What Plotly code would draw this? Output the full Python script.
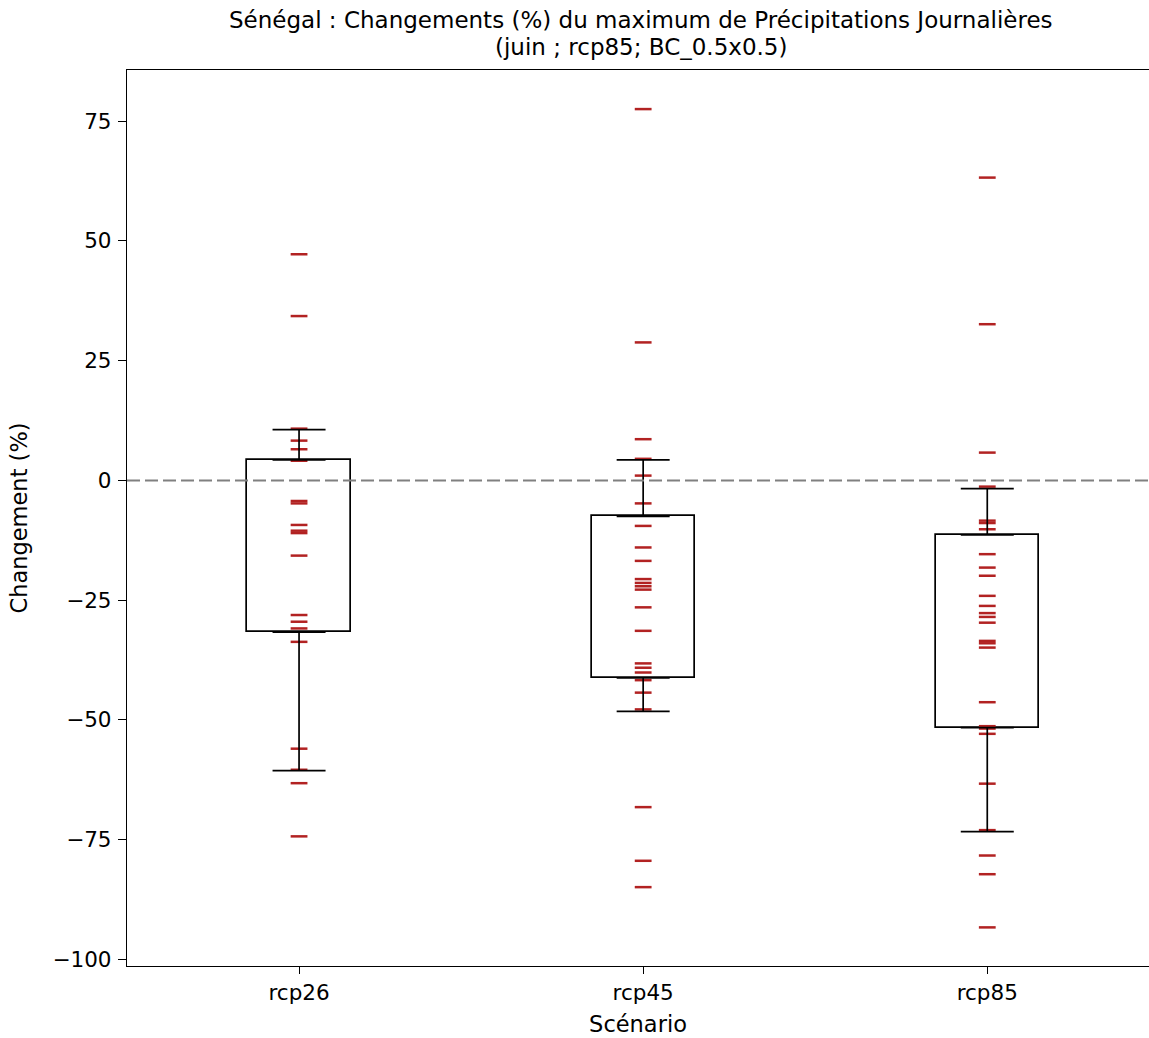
import plotly.graph_objects as go

# ---- data ----
scenarios = ["rcp26", "rcp45", "rcp85"]
positions = [1, 2, 3]

rcp26_vals = [47.2, 34.3, 10.8, 8.3, 6.5, 4.1, -4.3, -4.8, -9.3, -10.5, -11.0, -15.7,
              -28.1, -29.5, -30.9, -33.7, -56.0, -60.4, -63.2, -74.3]
rcp45_vals = [77.5, 28.8, 8.6, 4.5, 1.0, -4.8, -9.5, -14.0, -16.8, -20.6, -21.4, -22.1,
              -22.8, -26.5, -31.4, -38.2, -39.1, -40.1, -41.7, -44.3, -47.8, -68.2,
              -79.4, -84.9]
rcp85_vals = [63.2, 32.6, 5.8, -1.3, -8.4, -8.9, -10.2, -15.4, -18.2, -19.9, -24.1,
              -26.2, -27.7, -28.5, -29.7, -33.5, -34.0, -34.9, -46.3, -51.3, -51.8,
              -52.9, -63.3, -73.0, -78.3, -82.2, -93.3]

q1 = [-31.7, -41.2, -51.6]
q3 = [4.3, -7.5, -11.4]
whisker_low = [-60.6, -48.2, -73.3]
whisker_high = [10.6, 4.3, -1.7]

y_ticks = [-100, -75, -50, -25, 0, 25, 50, 75]

title_line1 = "Sénégal : Changements (%) du maximum de Précipitations Journalières"
title_line2 = "(juin ; rcp85; BC_0.5x0.5)"

FONT = "DejaVu Sans"
fig = go.Figure()

# individual model values
for pos, vals in zip(positions, [rcp26_vals, rcp45_vals, rcp85_vals]):
    fig.add_trace(go.Scatter(
        x=[pos] * len(vals), y=vals, mode="markers",
        marker=dict(symbol="line-ew", size=12, color="#b22222",
                    line=dict(color="#b22222", width=2.5)),
        showlegend=False, hoverinfo="y"))

# boxes
fig.add_trace(go.Bar(
    x=positions, base=q1, y=[b - a for a, b in zip(q1, q3)], width=0.3,
    marker=dict(color="rgba(0,0,0,0)", line=dict(color="black", width=1.7)),
    showlegend=False, hoverinfo="skip"))

# upper whiskers
fig.add_trace(go.Scatter(
    x=positions, y=q3, mode="markers",
    marker=dict(color="rgba(0,0,0,0)", size=1),
    error_y=dict(type="data", symmetric=False,
                 array=[h - t for h, t in zip(whisker_high, q3)],
                 arrayminus=[0, 0, 0], width=26.5, thickness=1.7, color="black"),
    showlegend=False, hoverinfo="skip"))
# lower whiskers
fig.add_trace(go.Scatter(
    x=positions, y=q1, mode="markers",
    marker=dict(color="rgba(0,0,0,0)", size=1),
    error_y=dict(type="data", symmetric=False,
                 array=[0, 0, 0],
                 arrayminus=[b - l for b, l in zip(q1, whisker_low)],
                 width=26.5, thickness=1.7, color="black"),
    showlegend=False, hoverinfo="skip"))

fig.add_hline(y=0, line=dict(color="#808080", width=2, dash="13px,5px"))

# two-line title
for txt, ypix in [(title_line1, 20), (title_line2, 47)]:
    fig.add_annotation(text=txt, xref="paper", yref="paper",
                       x=(641 - 127) / 1022, y=1 + (70 - ypix) / 896,
                       xanchor="center", yanchor="middle", showarrow=False,
                       font=dict(family=FONT, size=23, color="black"))

fig.update_layout(
    width=1149, height=1038,
    paper_bgcolor="white", plot_bgcolor="white",
    margin=dict(l=127, r=0, t=70, b=72),
    font=dict(family=FONT, size=21, color="black"),
    xaxis=dict(range=[0.5, 3.47], tickvals=positions, ticktext=scenarios,
               showgrid=False, zeroline=False, showline=True, mirror=True,
               linecolor="black", linewidth=1.3, ticks="outside", ticklen=7,
               tickcolor="black", tickfont=dict(size=21.5),
               title=dict(text="Scénario", font=dict(size=22.5), standoff=12)),
    yaxis=dict(range=[-101.36, 85.66], tickvals=y_ticks,
               showgrid=False, zeroline=False, showline=True, mirror=False,
               linecolor="black", linewidth=1.3, ticks="outside", ticklen=8,
               ticklabelstandoff=2,
               tickcolor="black", tickfont=dict(size=21.5),
               title=dict(text="Changement (%)", font=dict(size=22.5), standoff=18)),
    bargap=0,
)

fig.write_html("out.html", config={"responsive": False, "displayModeBar": False},
               post_script="document.body.style.margin='0';document.body.style.overflow='hidden';")
